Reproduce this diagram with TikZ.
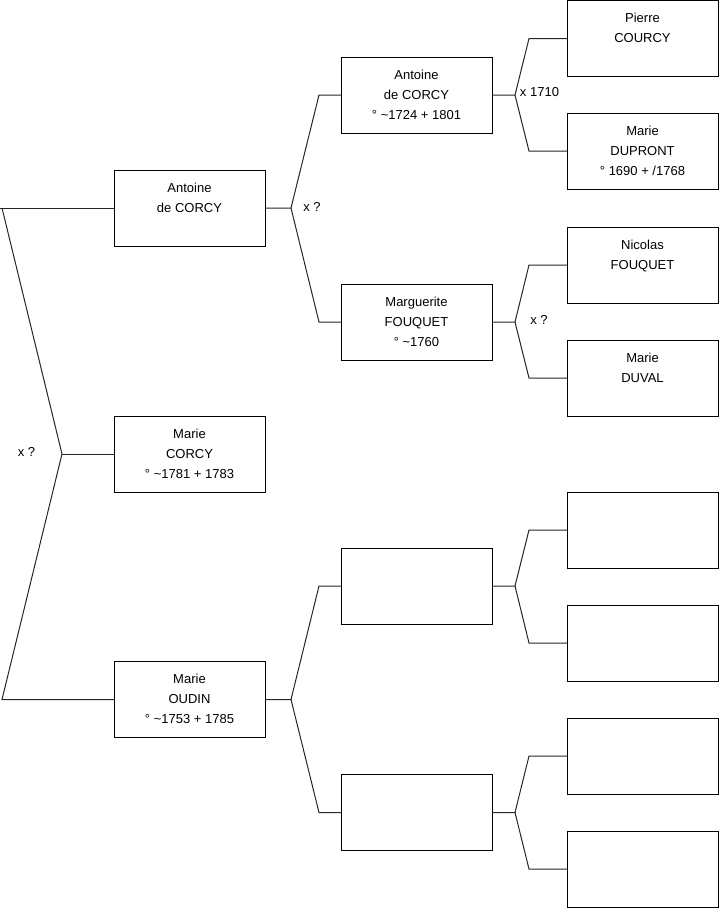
\documentclass[tikz,border=0pt]{standalone}
\usepackage{fontspec}
\setmainfont{Liberation Sans}

\newcommand{\fiche}[3]{\strut#1\\\strut#2\\\strut#3}

\begin{document}
\begin{tikzpicture}[x=1pt,y=-1pt,line width=1pt,
  personne/.style={draw=black, minimum width=151pt, minimum height=76pt, inner sep=0pt, outer sep=0pt, align=center, font=\fontsize{13}{20}\selectfont},
  lien/.style={draw=black!85},
  mariage/.style={inner sep=0pt, font=\fontsize{13}{16}\selectfont}]
\useasboundingbox (0,0) rectangle (719,908);
% generation 1
\node[personne] (a1) at (189.5,208) {\fiche{Antoine}{de CORCY}{}};
\node[personne] (a2) at (189.5,454) {\fiche{Marie}{CORCY}{° \textasciitilde1781 + 1783}};
\node[personne] (a3) at (189.5,699.5) {\fiche{Marie}{OUDIN}{° \textasciitilde1753 + 1785}};
% generation 2
\node[personne] (b1) at (416.5,95) {\fiche{Antoine}{de CORCY}{° \textasciitilde1724 + 1801}};
\node[personne] (b2) at (416.5,322) {\fiche{Marguerite}{FOUQUET}{° \textasciitilde1760}};
\node[personne] (b3) at (416.5,586) {};
\node[personne] (b4) at (416.5,812.5) {};
% generation 3
\node[personne] (c1) at (642.5,38.5) {\fiche{Pierre}{COURCY}{}};
\node[personne] (c2) at (642.5,151) {\fiche{Marie}{DUPRONT}{° 1690 + /1768}};
\node[personne] (c3) at (642.5,265) {\fiche{Nicolas}{FOUQUET}{}};
\node[personne] (c4) at (642.5,378) {\fiche{Marie}{DUVAL}{}};
\node[personne] (c5) at (642.5,530) {};
\node[personne] (c6) at (642.5,643) {};
\node[personne] (c7) at (642.5,756) {};
\node[personne] (c8) at (642.5,869) {};

% root bracket
\coordinate (g) at (0,208);
\coordinate (r1) at (2,208);
\coordinate (r0) at (62,454);
\coordinate (r3) at (2,699.5);
\draw[lien] (g) -- (a1.west);
\draw[lien] (r1) -- (r0) -- (r3) -- (a3.west);
\draw[lien] (r0) -- (a2.west);

% parents brackets
\foreach \p/\m/\f in {a1/b1/b2, a3/b3/b4} {
  \draw[lien] (\p.east) -- ++(26,0) coordinate (k) -- ([xshift=-22pt]\m.west) -- (\m.west);
  \draw[lien] (k) -- ([xshift=-22pt]\f.west) -- (\f.west);
}
\foreach \p/\m/\f in {b1/c1/c2, b2/c3/c4, b3/c5/c6, b4/c7/c8} {
  \draw[lien] (\p.east) -- ++(23,0) coordinate (k) -- ([xshift=-38pt]\m.west) -- (\m.west);
  \draw[lien] (k) -- ([xshift=-38pt]\f.west) -- (\f.west);
}

% mariages
\node[mariage] (m0) at (26.5,452) {x ?};
\node[mariage] (m1) at (312,207) {x ?};
\node[mariage] (m2) at (539.5,92) {x 1710};
\node[mariage] (m3) at (539,320) {x ?};
\end{tikzpicture}
\end{document}
